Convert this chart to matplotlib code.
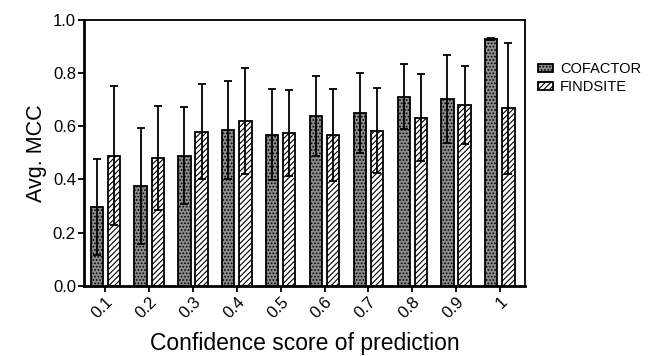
import matplotlib
matplotlib.use("Agg")
import matplotlib.pyplot as plt
import numpy as np

plt.rcParams['font.family'] = ['Liberation Sans', 'DejaVu Sans']
plt.rcParams['hatch.linewidth'] = 0.8

categories = ["0.1", "0.2", "0.3", "0.4", "0.5", "0.6", "0.7", "0.8", "0.9", "1"]
cofactor = [0.296, 0.376, 0.49, 0.586, 0.569, 0.639, 0.650, 0.711, 0.703, 0.929]
cofactor_err = [0.18, 0.218, 0.183, 0.185, 0.17, 0.15, 0.15, 0.122, 0.165, 0.004]
findsite = [0.49, 0.481, 0.58, 0.62, 0.576, 0.566, 0.583, 0.633, 0.680, 0.667]
findsite_err = [0.26, 0.195, 0.18, 0.2, 0.162, 0.173, 0.16, 0.163, 0.147, 0.245]

fig = plt.figure(figsize=(6.48, 3.56), dpi=100)
ax = fig.add_axes([0.130, 0.197, 0.680, 0.747])

x = np.arange(len(categories))
w = 0.28
off = 0.195

ekw = dict(elinewidth=1.3, capsize=3, capthick=1.3, ecolor='black')
b1 = ax.bar(x - off, cofactor, w, color='#8c8c8c', edgecolor='black', linewidth=1.3,
            hatch='.....', label='COFACTOR', zorder=2)
ax.errorbar(x - off, cofactor, yerr=cofactor_err, fmt='none', zorder=3, **ekw)
b2 = ax.bar(x + off, findsite, w, color='white', edgecolor='black', linewidth=1.3,
            hatch='//////', label='FINDSITE', zorder=2)
ax.errorbar(x + off, findsite, yerr=findsite_err, fmt='none', zorder=3, **ekw)

ax.set_xlim(-0.48, 9.57)
ax.set_ylim(0, 1.0)
ax.set_yticks([0.0, 0.2, 0.4, 0.6, 0.8, 1.0])
ax.set_yticklabels(["0.0", "0.2", "0.4", "0.6", "0.8", "1.0"], fontsize=12)
ax.set_xticks(x)
ax.set_xticklabels(categories, rotation=45, ha='right', rotation_mode='anchor', fontsize=12)
ax.tick_params(axis='both', direction='out', length=4, width=1.3, pad=2)

for s in ['left', 'bottom']:
    ax.spines[s].set_linewidth(2.0)
for s in ['top', 'right']:
    ax.spines[s].set_linewidth(1.3)

ax.set_ylabel("Avg. MCC", fontsize=15.5, labelpad=4)
ax.set_xlabel("Confidence score of prediction", fontsize=16.5, labelpad=8)

leg = ax.legend(loc='upper left', bbox_to_anchor=(1.0, 0.89), frameon=False,
                fontsize=10.5, handlelength=1.0, handleheight=0.5, labelspacing=0.25,
                handletextpad=0.5, borderaxespad=0.5)

fig.savefig("out.png", dpi=100)
